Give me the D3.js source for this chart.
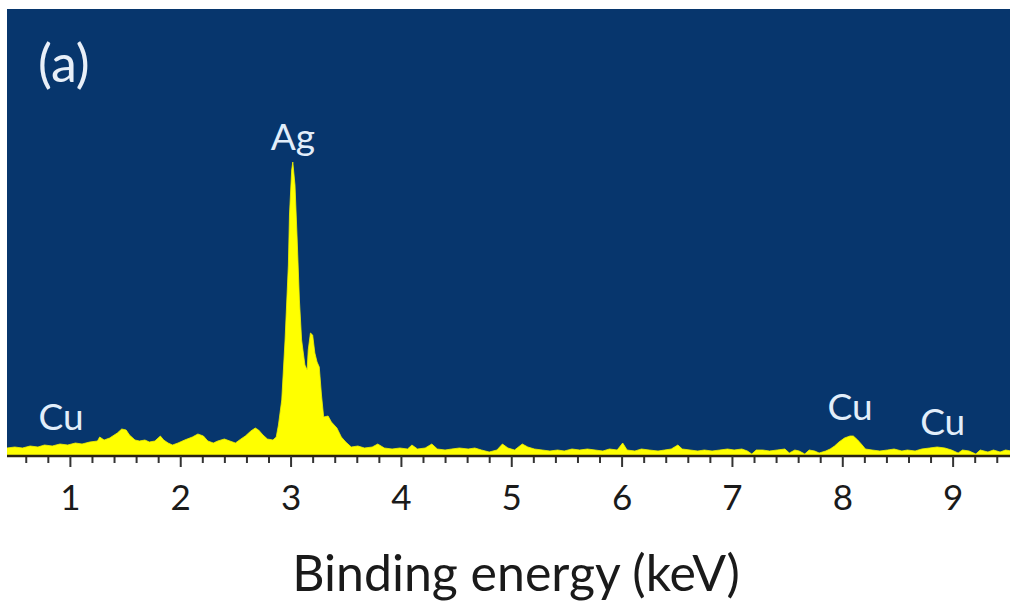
<!DOCTYPE html>
<html>
<head>
<meta charset="utf-8">
<script src="https://cdn.jsdelivr.net/npm/d3@7"></script>
<style>
  html, body { margin: 0; padding: 0; background: #ffffff; }
  svg { display: block; }
  text { font-family: Lato, "Open Sans", sans-serif; }
</style>
</head>
<body>
<svg id="chart" width="1013" height="607"></svg>
<script>
// ---- Data ----
const energy = [
  0.43, 0.50, 0.57, 0.64, 0.71, 0.77, 0.84, 0.91, 0.98, 1.05, 1.11, 1.18, 1.25, 1.27, 1.31, 1.36,
  1.43, 1.47, 1.51, 1.54, 1.59, 1.63, 1.68, 1.72, 1.77, 1.82, 1.85, 1.89, 1.93, 1.98, 2.04, 2.11,
  2.16, 2.21, 2.25, 2.30, 2.34, 2.40, 2.45, 2.50, 2.55, 2.59, 2.64, 2.68, 2.71, 2.75, 2.79, 2.84,
  2.87, 2.89, 2.92, 2.95, 2.98, 2.99, 3.01, 3.02, 3.04, 3.06, 3.08, 3.10, 3.13, 3.15, 3.16, 3.18,
  3.20, 3.22, 3.24, 3.26, 3.28, 3.30, 3.34, 3.37, 3.42, 3.46, 3.50, 3.55, 3.61, 3.67, 3.74, 3.79,
  3.85, 3.92, 3.99, 4.06, 4.10, 4.15, 4.22, 4.28, 4.33, 4.40, 4.46, 4.53, 4.61, 4.67, 4.73, 4.80,
  4.87, 4.92, 4.97, 5.03, 5.10, 5.15, 5.21, 5.28, 5.35, 5.42, 5.48, 5.55, 5.62, 5.69, 5.76, 5.83,
  5.89, 5.96, 6.01, 6.05, 6.12, 6.18, 6.25, 6.33, 6.39, 6.45, 6.51, 6.55, 6.62, 6.69, 6.75, 6.82,
  6.89, 6.96, 7.02, 7.09, 7.14, 7.18, 7.22, 7.28, 7.34, 7.41, 7.48, 7.52, 7.57, 7.61, 7.66, 7.70,
  7.75, 7.79, 7.85, 7.89, 7.93, 7.97, 8.02, 8.07, 8.10, 8.14, 8.18, 8.21, 8.27, 8.34, 8.41, 8.47,
  8.54, 8.59, 8.66, 8.72, 8.79, 8.86, 8.93, 8.99, 9.05, 9.09, 9.15, 9.21, 9.25, 9.32, 9.37, 9.43,
  9.48, 9.53
];
const counts = [
  8, 9, 8, 10, 9, 11, 10, 12, 11, 13, 12, 14, 15, 19, 16, 18,
  23, 27, 26, 21, 16, 15, 16, 14, 15, 20, 16, 13, 11, 13, 16, 19,
  22, 20, 15, 13, 15, 17, 15, 13, 17, 20, 25, 28, 26, 21, 17, 16,
  19, 31, 56, 116, 191, 241, 286, 294, 271, 216, 156, 116, 91, 86, 106, 123,
  121, 103, 94, 89, 61, 39, 40, 34, 28, 19, 14, 9, 10, 8, 9, 12,
  8, 7, 8, 7, 11, 7, 8, 12, 7, 6, 7, 8, 7, 8, 6, 4,
  6, 12, 8, 6, 12, 9, 7, 6, 5, 6, 5, 7, 6, 7, 6, 5,
  7, 6, 13, 6, 5, 7, 6, 5, 6, 7, 11, 7, 6, 5, 6, 5,
  6, 7, 6, 7, 5, 2, 6, 6, 5, 6, 7, 3, 6, 5, 2, 6,
  5, 3, 5, 7, 10, 14, 18, 20, 20, 16, 11, 7, 6, 5, 6, 7,
  5, 6, 5, 7, 8, 9, 8, 6, 3, 6, 5, 2, 6, 4, 6, 4,
  6, 5
];
const xTicks = [1, 2, 3, 4, 5, 6, 7, 8, 9];
const xMinorStep = 0.2;
const peakLabels = ["Cu", "Ag", "Cu", "Cu"];
const peakEnergies = [0.92, 3.02, 8.07, 8.91];
const peakLabelCounts = [26, 306, 36, 21];
const panelLabel = "(a)";
const xTitle = "Binding energy (keV)";

// ---- Layout ----
const W = 1013, H = 607;
const margin = { left: 7, top: 9, right: 3, bottom: 151 };
const plotW = W - margin.left - margin.right;
const plotH = H - margin.top - margin.bottom;

const svg = d3.select("#chart");

const x = d3.scaleLinear().domain([0.43, 9.52]).range([margin.left, margin.left + plotW]);
const y = d3.scaleLinear().domain([0, 447]).range([margin.top + plotH, margin.top]);

// background
svg.append("rect").attr("x", margin.left).attr("y", margin.top)
  .attr("width", plotW).attr("height", plotH).attr("fill", "#07366d");

svg.append("clipPath").attr("id", "clip").append("rect")
  .attr("x", margin.left).attr("y", margin.top).attr("width", plotW).attr("height", plotH);

const data = energy.map((e, i) => ({ e, c: counts[i] }));

const area = d3.area()
  .x(d => x(d.e))
  .y0(y(0))
  .y1(d => y(d.c))
  .curve(d3.curveLinear);

svg.append("path").datum(data)
  .attr("clip-path", "url(#clip)")
  .attr("d", area)
  .attr("fill", "#ffff00")
  .attr("stroke", "#f2f200")
  .attr("stroke-width", 0.8);

// peak labels
svg.selectAll("text.peak").data(peakLabels).enter().append("text")
  .attr("class", "peak")
  .attr("x", (d, i) => x(peakEnergies[i]))
  .attr("y", (d, i) => y(peakLabelCounts[i]))
  .attr("text-anchor", "middle")
  .attr("font-size", 37)
  .attr("fill", "#e2eefa")
  .text(d => d);

svg.append("text")
  .attr("x", 38).attr("y", 82)
  .attr("font-size", 52)
  .attr("fill", "#e8eff8")
  .text(panelLabel);

// axes
const minorTicks = d3.range(0.6, 9.5, xMinorStep).filter(v => Math.abs(v - Math.round(v)) > 0.01);

const axisMinor = d3.axisBottom(x).tickValues(minorTicks).tickSize(7).tickFormat("");
const gMinor = svg.append("g").attr("transform", `translate(0,${y(0)})`).call(axisMinor);
gMinor.select(".domain").remove();
gMinor.selectAll(".tick line").attr("stroke", "#333").attr("stroke-width", 2);

const axisMajor = d3.axisBottom(x).tickValues(xTicks).tickSize(11).tickPadding(18)
  .tickFormat(d3.format("d"));
const gMajor = svg.append("g").attr("transform", `translate(0,${y(0)})`).call(axisMajor);
gMajor.select(".domain").attr("stroke", "#2a2310").attr("stroke-width", 2.5)
  .attr("d", `M${margin.left},0H${margin.left + plotW}`);
gMajor.selectAll(".tick line").attr("stroke", "#333").attr("stroke-width", 2);
gMajor.selectAll(".tick text")
  .attr("font-size", 35)
  .attr("fill", "#1a1a1a")
  .attr("font-family", "Lato, 'Open Sans', sans-serif");

svg.append("text")
  .attr("x", 516).attr("y", 591)
  .attr("text-anchor", "middle")
  .attr("font-size", 50)
  .attr("fill", "#1a1a1a")
  .text(xTitle);
</script>
</body>
</html>
